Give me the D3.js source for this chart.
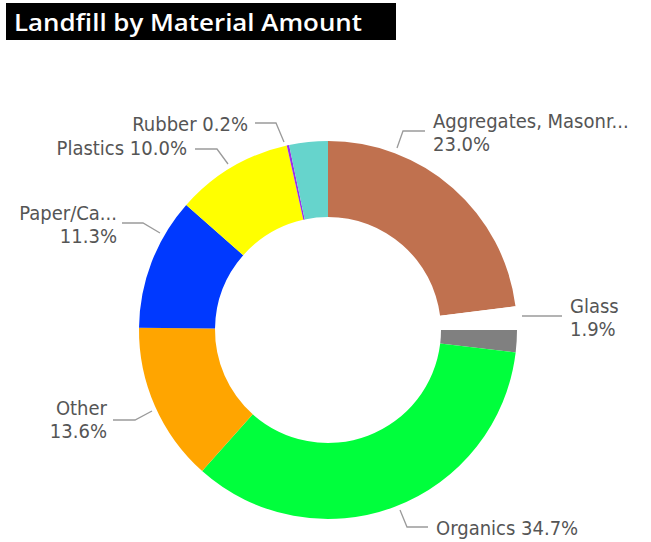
<!DOCTYPE html>
<html><head><meta charset="utf-8">
<script src="https://cdn.jsdelivr.net/npm/d3@7"></script>
<style>body{margin:0;background:#fff;}svg{display:block;}</style>
</head><body>
<svg id="chart" width="651" height="542"></svg>
<script>
// ---- data ----
const categories = ["Aggregates, Masonr...", "(Blank)", "Glass", "Organics", "Other", "Paper/Ca...", "Plastics", "Rubber", "Textiles"];
const values = [23.0, 2.0, 1.9, 34.7, 13.6, 11.3, 10.0, 0.2, 3.3];
const colors = ["#C0714F", "#FFFFFF", "#808080", "#00FF3C", "#FFA500", "#0039FF", "#FFFF00", "#9B30E8", "#66D4CC"];
const labelLine1 = ["Aggregates, Masonr...", null, "Glass", "Organics 34.7%", "Other", "Paper/Ca...", "Plastics 10.0%", "Rubber 0.2%", null];
const labelLine2 = ["23.0%", null, "1.9%", null, "13.6%", "11.3%", null, null, null];

// ---- layout ----
const W = 651, H = 542;
const cx = 328, cy = 330, R = 189, r = 113;
const svg = d3.select("#chart");

// title
svg.append("rect").attr("x", 6).attr("y", 3).attr("width", 390).attr("height", 37).attr("fill", "#000");
svg.append("text").attr("x", 14).attr("y", 31).attr("fill", "#fff")
  .attr("font-family", "'Open Sans', 'Noto Sans', sans-serif").attr("font-size", 23)
  .attr("font-weight", 600)
  .attr("textLength", 348).attr("lengthAdjust", "spacingAndGlyphs")
  .text("Landfill by Material Amount");

const pie = d3.pie().sort(null).value(d => d)(values);
const arc = d3.arc().innerRadius(r).outerRadius(R);
const g = svg.append("g").attr("transform", `translate(${cx},${cy})`);
g.selectAll("path").data(pie).join("path")
  .attr("d", arc).attr("fill", (d, i) => colors[i]);

// label placement (layout): leader polyline and text anchor per labeled slice
const labelLayout = [
  {pts: [[397,148],[403,131],[425,131]], x: 433, y: 128, anchor: "start"},
  null,
  {pts: [[522,316],[562,316]], x: 570, y: 313, anchor: "start"},
  {pts: [[400,510],[407,527],[428,527]], x: 436, y: 535, anchor: "start"},
  {pts: [[152,411],[135,420],[113,420]], x: 107, y: 415, anchor: "end"},
  {pts: [[160,233],[143,223],[122,223]], x: 117, y: 220, anchor: "end"},
  {pts: [[228,164],[217,149],[195,149]], x: 187, y: 155, anchor: "end"},
  {pts: [[284,142],[276,123],[255,123]], x: 248, y: 131, anchor: "end"},
  null
];
const lineGen = d3.line();
const labFont = "'DejaVu Sans Condensed', 'DejaVu Sans', sans-serif";
labelLayout.forEach((L, i) => {
  if (!L) return;
  svg.append("path").attr("d", lineGen(L.pts)).attr("fill", "none")
    .attr("stroke", "#9a9a9a").attr("stroke-width", 1.3);
  const t = svg.append("text").attr("x", L.x).attr("y", L.y)
    .attr("text-anchor", L.anchor).attr("fill", "#555555")
    .attr("font-family", labFont).attr("font-size", 20);
  t.append("tspan").attr("x", L.x).text(labelLine1[i]);
  if (labelLine2[i]) t.append("tspan").attr("x", L.x).attr("dy", 23).text(labelLine2[i]);
});
</script>
</body></html>
